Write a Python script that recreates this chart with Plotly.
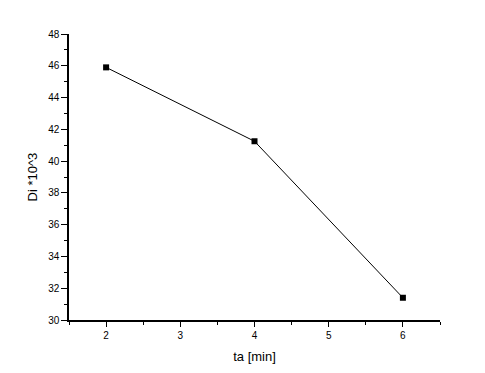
import plotly.graph_objects as go

ta = [2, 4, 6]
di = [45.9, 41.25, 31.4]

x_tickvals = [2, 3, 4, 5, 6]
y_tickvals = [30, 32, 34, 36, 38, 40, 42, 44, 46, 48]

fig = go.Figure()
fig.add_trace(go.Scatter(
    x=ta, y=di, mode="lines+markers",
    line=dict(color="black", width=1),
    marker=dict(symbol="square", size=6, color="black"),
    showlegend=False,
))

fig.update_layout(
    width=477, height=365,
    margin=dict(l=61, r=45, t=26, b=53),
    paper_bgcolor="white", plot_bgcolor="white",
    font=dict(family="Liberation Sans, Arial, sans-serif", color="black"),
)
fig.update_xaxes(
    range=[1.5, 6.5], tickvals=x_tickvals,
    showline=True, linecolor="black", linewidth=1.5, mirror=False,
    ticks="outside", ticklen=5, tickwidth=1, tickcolor="black",
    minor=dict(ticks="outside", ticklen=3, dtick=0.5, tick0=1.5, tickcolor="black"),
    showgrid=False, zeroline=False,
    tickfont=dict(size=10),
    title=dict(text="ta [min]", font=dict(size=13), standoff=12),
    automargin=False,
)
fig.update_yaxes(
    range=[30, 48], tickvals=y_tickvals,
    showline=True, linecolor="black", linewidth=1.5, mirror=False,
    ticks="outside", ticklen=6, tickwidth=1, tickcolor="black",
    minor=dict(ticks="outside", ticklen=3, dtick=1, tick0=30, tickcolor="black"),
    showgrid=False, zeroline=False,
    tickfont=dict(size=10),
    title=dict(text="Di *10^3", font=dict(size=13), standoff=8),
    automargin=False,
)

fig.write_html("out.html")
